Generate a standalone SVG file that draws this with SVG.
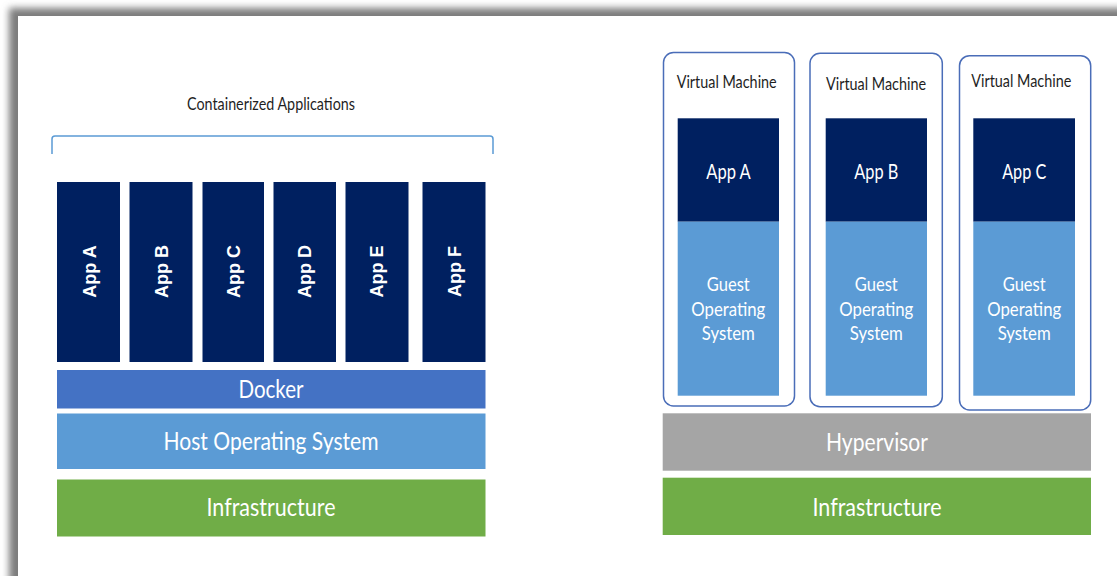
<svg xmlns="http://www.w3.org/2000/svg" width="1117" height="576" viewBox="0 0 1117 576">
  <defs>
    <filter id="shadow" x="-5%" y="-5%" width="110%" height="110%">
      <feGaussianBlur stdDeviation="3.5"/>
    </filter>
    <style>
      .cal { font-family: Lato, "Open Sans", "Liberation Sans", sans-serif; }
      .dark { fill: #1f1f1f; }
      .white { fill: #ffffff; }
      .app { fill: #002060; }
      .vapp { font-family: "Liberation Sans", Arial, sans-serif; font-weight: bold; font-size: 18px; fill: #ffffff; }
      .vm { fill: #ffffff; stroke: #4a6db8; stroke-width: 1.5; }
    </style>
  </defs>

  <rect x="0" y="0" width="1117" height="576" fill="#ffffff"/>
  <rect x="9" y="8" width="1200" height="700" fill="#7d7d7d" filter="url(#shadow)"/>
  <rect x="18" y="16" width="1200" height="700" fill="#ffffff"/>

  <!-- Left: containers -->
  <g id="containerized-label">
    <text class="cal dark" x="271" y="110" font-size="18" text-anchor="middle" textLength="168" lengthAdjust="spacingAndGlyphs">Containerized Applications</text>
  </g>
  <g id="connectors">
    <path d="M52,154 L52,139 Q52,136 55,136 L490,136 Q493,136 493,139 L493,154" fill="none" stroke="#5b9bd5" stroke-width="1.5"/>
  </g>

  <g id="app-a-left">
    <rect class="app" x="57" y="182" width="63" height="180"/>
    <text class="vapp" transform="translate(95.5,271.5) rotate(-90)" text-anchor="middle">App A</text>
  </g>
  <g id="app-b-left">
    <rect class="app" x="129.5" y="182" width="63" height="180"/>
    <text class="vapp" transform="translate(167.5,271.5) rotate(-90)" text-anchor="middle">App B</text>
  </g>
  <g id="app-c-left">
    <rect class="app" x="202.5" y="182" width="61.5" height="180"/>
    <text class="vapp" transform="translate(239.8,271.5) rotate(-90)" text-anchor="middle">App C</text>
  </g>
  <g id="app-d-left">
    <rect class="app" x="273.5" y="182" width="62.5" height="180"/>
    <text class="vapp" transform="translate(311.2,271.5) rotate(-90)" text-anchor="middle">App D</text>
  </g>
  <g id="app-e-left">
    <rect class="app" x="345.5" y="182" width="63" height="180"/>
    <text class="vapp" transform="translate(383.3,271.5) rotate(-90)" text-anchor="middle">App E</text>
  </g>
  <g id="app-f-left">
    <rect class="app" x="422.5" y="182" width="63" height="180"/>
    <text class="vapp" transform="translate(460.7,271.5) rotate(-90)" text-anchor="middle">App F</text>
  </g>

  <g id="docker">
    <rect x="57" y="370" width="428.5" height="38.5" fill="#4472c4"/>
    <text class="cal white" x="271" y="398" font-size="25" text-anchor="middle" textLength="65" lengthAdjust="spacingAndGlyphs">Docker</text>
  </g>
  <g id="host-os">
    <rect x="57" y="413.5" width="428.5" height="55.5" fill="#5b9bd5"/>
    <text class="cal white" x="271" y="450" font-size="25" text-anchor="middle" textLength="215" lengthAdjust="spacingAndGlyphs">Host Operating System</text>
  </g>
  <g id="infrastructure-left">
    <rect x="57" y="479.5" width="428.5" height="57" fill="#70ad47"/>
    <text class="cal white" x="271" y="516" font-size="25" text-anchor="middle" textLength="129" lengthAdjust="spacingAndGlyphs">Infrastructure</text>
  </g>

  <!-- Right: virtual machines -->
  <g id="vm-1">
    <rect class="vm" x="663.5" y="52.5" width="131" height="353.5" rx="10"/>
    <text class="cal dark" x="726.7" y="88" font-size="18" text-anchor="middle" textLength="100" lengthAdjust="spacingAndGlyphs">Virtual Machine</text>
    <rect class="app" x="677.7" y="118.3" width="101.3" height="103.4"/>
    <rect x="677.7" y="221.7" width="101.3" height="174" fill="#5b9bd5"/>
    <text class="cal white" x="728.5" y="179.3" font-size="21" text-anchor="middle" textLength="44.5" lengthAdjust="spacingAndGlyphs">App A</text>
    <text class="cal white" x="728.3" y="291" font-size="19" text-anchor="middle" textLength="43" lengthAdjust="spacingAndGlyphs">Guest</text>
    <text class="cal white" x="728.3" y="315.5" font-size="19" text-anchor="middle" textLength="74" lengthAdjust="spacingAndGlyphs">Operating</text>
    <text class="cal white" x="728.3" y="340" font-size="19" text-anchor="middle" textLength="53" lengthAdjust="spacingAndGlyphs">System</text>
  </g>
  <g id="vm-2">
    <rect class="vm" x="810" y="53.3" width="132.3" height="353.4" rx="10"/>
    <text class="cal dark" x="876" y="90" font-size="18" text-anchor="middle" textLength="100" lengthAdjust="spacingAndGlyphs">Virtual Machine</text>
    <rect class="app" x="825.7" y="118.3" width="101.3" height="103.4"/>
    <rect x="825.7" y="221.7" width="101.3" height="174" fill="#5b9bd5"/>
    <text class="cal white" x="876.3" y="179.3" font-size="21" text-anchor="middle" textLength="44" lengthAdjust="spacingAndGlyphs">App B</text>
    <text class="cal white" x="876.3" y="291" font-size="19" text-anchor="middle" textLength="43" lengthAdjust="spacingAndGlyphs">Guest</text>
    <text class="cal white" x="876.3" y="315.5" font-size="19" text-anchor="middle" textLength="74" lengthAdjust="spacingAndGlyphs">Operating</text>
    <text class="cal white" x="876.3" y="340" font-size="19" text-anchor="middle" textLength="53" lengthAdjust="spacingAndGlyphs">System</text>
  </g>
  <g id="vm-3">
    <rect class="vm" x="959.5" y="55.7" width="131.2" height="354.3" rx="10"/>
    <text class="cal dark" x="1021.3" y="87.3" font-size="18" text-anchor="middle" textLength="100" lengthAdjust="spacingAndGlyphs">Virtual Machine</text>
    <rect class="app" x="973.3" y="118.3" width="101.7" height="103.4"/>
    <rect x="973.3" y="221.7" width="101.7" height="174" fill="#5b9bd5"/>
    <text class="cal white" x="1024.2" y="179.3" font-size="21" text-anchor="middle" textLength="44" lengthAdjust="spacingAndGlyphs">App C</text>
    <text class="cal white" x="1024.2" y="291" font-size="19" text-anchor="middle" textLength="43" lengthAdjust="spacingAndGlyphs">Guest</text>
    <text class="cal white" x="1024.2" y="315.5" font-size="19" text-anchor="middle" textLength="74" lengthAdjust="spacingAndGlyphs">Operating</text>
    <text class="cal white" x="1024.2" y="340" font-size="19" text-anchor="middle" textLength="53" lengthAdjust="spacingAndGlyphs">System</text>
  </g>

  <g id="hypervisor">
    <rect x="662.7" y="413.3" width="428.3" height="57.4" fill="#a5a5a5"/>
    <text class="cal white" x="877" y="451" font-size="25" text-anchor="middle" textLength="102" lengthAdjust="spacingAndGlyphs">Hypervisor</text>
  </g>
  <g id="infrastructure-right">
    <rect x="662.7" y="477.7" width="428.3" height="57.3" fill="#70ad47"/>
    <text class="cal white" x="877" y="516" font-size="25" text-anchor="middle" textLength="129" lengthAdjust="spacingAndGlyphs">Infrastructure</text>
  </g>
</svg>
